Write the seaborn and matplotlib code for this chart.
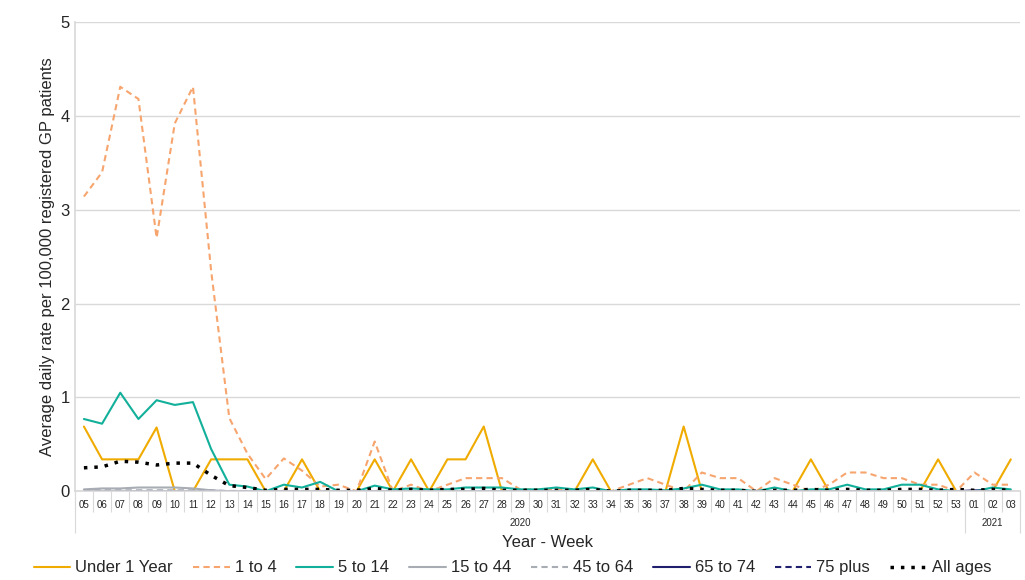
import numpy as np
import pandas as pd
import matplotlib
matplotlib.use("Agg")
import matplotlib.pyplot as plt
import matplotlib.transforms as mtransforms
import seaborn as sns

# ── Data ──────────────────────────────────────────────────────────────────────
weeks = [f"{w:02d}" for w in range(5, 54)] + ["01", "02", "03"]
years = ["2020"] * 49 + ["2021"] * 3

under_1 = [0.69, 0.34, 0.34, 0.34, 0.68, 0, 0, 0.34, 0.34, 0.34, 0, 0, 0.34, 0, 0, 0,
           0.34, 0, 0.34, 0, 0.34, 0.34, 0.69, 0, 0, 0, 0, 0, 0.34, 0, 0, 0, 0, 0.69,
           0, 0, 0, 0, 0, 0, 0.34, 0, 0, 0, 0, 0, 0, 0.34, 0, 0, 0, 0.34]
one_to_4 = [3.14, 3.4, 4.31, 4.18, 2.7, 3.92, 4.31, 2.35, 0.78, 0.4, 0.13, 0.35, 0.22,
            0.05, 0.07, 0, 0.53, 0, 0.07, 0, 0.07, 0.14, 0.14, 0.14, 0.02, 0.02, 0.02,
            0.02, 0, 0, 0.07, 0.14, 0.07, 0, 0.2, 0.14, 0.14, 0, 0.14, 0.07, 0, 0.07,
            0.2, 0.2, 0.14, 0.14, 0.07, 0.07, 0, 0.2, 0.07, 0.07]
five_to_14 = [0.77, 0.72, 1.05, 0.77, 0.97, 0.92, 0.95, 0.45, 0.07, 0.05, 0, 0.07, 0.04,
              0.1, 0, 0, 0.06, 0.02, 0.03, 0.02, 0.02, 0.04, 0.04, 0.04, 0.02, 0.02, 0.04,
              0.02, 0.04, 0, 0.02, 0.02, 0.01, 0.03, 0.07, 0.02, 0.02, 0, 0.04, 0, 0.02,
              0.02, 0.07, 0.02, 0.02, 0.07, 0.07, 0.02, 0, 0, 0.04, 0.02]
fifteen_to_44 = [0.02, 0.03, 0.03, 0.04, 0.04, 0.04, 0.03, 0.01] + [0.0] * 44
forty5_to_64 = [0.01, 0.01, 0.01, 0.01, 0.01, 0.01, 0.01, 0.01] + [0.0] * 44
sixty5_to_74 = [0.0] * 49 + [0.01, 0.0, 0.0]
seventy5_plus = [0.0] * 52
all_ages = [0.25, 0.26, 0.32, 0.31, 0.28, 0.3, 0.3, 0.17, 0.06, 0.04, 0.01, 0.02, 0.02,
            0.02, 0.01, 0.01, 0.03, 0.01, 0.02, 0.01, 0.02, 0.02, 0.03, 0.01, 0.01, 0.01,
            0.01, 0.01, 0.02, 0, 0.01, 0.01, 0.01, 0.03, 0.02, 0.01, 0.01, 0, 0.01, 0.01,
            0.02, 0.01, 0.02, 0.01, 0.01, 0.02, 0.02, 0.01, 0.02, 0.01, 0.02, 0.01]

series = [
    ("Under 1 Year", under_1, "#F0AB00", "-", 1.5),
    ("1 to 4", one_to_4, "#F7A56E", (0, (3, 2)), 1.5),
    ("5 to 14", five_to_14, "#12B09A", "-", 1.5),
    ("15 to 44", fifteen_to_44, "#A8ADB3", "-", 1.5),
    ("45 to 64", forty5_to_64, "#A8ADB3", (0, (3, 2)), 1.5),
    ("65 to 74", sixty5_to_74, "#1F1F6E", "-", 1.5),
    ("75 plus", seventy5_plus, "#1F1F6E", (0, (3, 2)), 1.5),
    ("All ages", all_ages, "black", (0, (1, 2)), 2.5),
]

# ── Plot ──────────────────────────────────────────────────────────────────────
sns.set_theme(style="white")
plt.rcParams['font.family'] = ['Liberation Sans', 'DejaVu Sans']
fig = plt.figure(figsize=(10.25, 5.8), dpi=100)
ax = fig.add_axes([0.073, 0.153, 0.922, 0.809])
x = np.arange(len(weeks))

for name, vals, col, ls, lw in series:
    sns.lineplot(x=x, y=vals, ax=ax, color=col, linestyle=ls, linewidth=lw, label=name,
                 legend=False)

ax.set_xlim(-0.5, len(weeks) - 0.5)
ax.set_ylim(0, 5)
ax.set_yticks(range(6))
ax.tick_params(axis='y', labelsize=12, length=0)
ax.yaxis.grid(True, color='#D9D9D9', linewidth=1)
for s in ['top', 'right']:
    ax.spines[s].set_visible(False)
ax.spines['left'].set_color('#D9D9D9')
ax.spines['bottom'].set_color('#D9D9D9')
ax.set_ylabel('Average daily rate per 100,000 registered GP patients', fontsize=12)

ax.set_xticks(x)
ax.set_xticklabels(weeks, fontsize=7)
ax.tick_params(axis='x', length=0, pad=6)

trans = mtransforms.blended_transform_factory(ax.transData, ax.transAxes)
ax.vlines(np.arange(len(weeks) + 1) - 0.5, -0.045, 0, transform=trans,
          color='#D9D9D9', linewidth=0.8, clip_on=False)
ax.vlines([-0.5, 48.5, 51.5], -0.09, 0, transform=trans,
          color='#D9D9D9', linewidth=0.8, clip_on=False)
ax.text(24, -0.068, '2020', transform=trans, ha='center', va='center', fontsize=7)
ax.text(50, -0.068, '2021', transform=trans, ha='center', va='center', fontsize=7)
ax.set_xlabel('Year - Week', fontsize=12, labelpad=18)

handles, labels = ax.get_legend_handles_labels()
fig.legend(handles, labels, loc='lower center', bbox_to_anchor=(0.5, -0.018), ncol=8,
           frameon=False, fontsize=12, handlelength=2.2, columnspacing=1.2,
           handletextpad=0.3)

fig.savefig('out.png')
